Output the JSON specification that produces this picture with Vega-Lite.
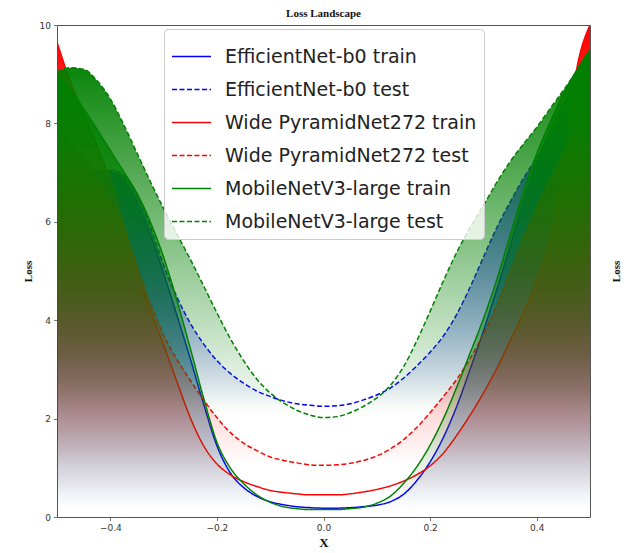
{
"$schema": "https://vega.github.io/schema/vega-lite/v6.json",
"width": 533, "height": 492,
"autosize": {"type": "none"},
"padding": {"left": 57, "top": 25, "right": 36, "bottom": 36},
"background": "white",
"title": {"text": "Loss Landscape", "font": "Liberation Serif", "fontSize": 11, "fontWeight": "bold", "color": "#111", "offset": 2},
"data": {"values": [
{"x":-0.5,"s":"EfficientNet-b0 train","y":6.9},{"x":-0.475,"s":"EfficientNet-b0 train","y":6.92},{"x":-0.45,"s":"EfficientNet-b0 train","y":6.95},{"x":-0.425,"s":"EfficientNet-b0 train","y":6.98},{"x":-0.4,"s":"EfficientNet-b0 train","y":7.0},{"x":-0.375,"s":"EfficientNet-b0 train","y":6.85},{"x":-0.35,"s":"EfficientNet-b0 train","y":6.4},{"x":-0.325,"s":"EfficientNet-b0 train","y":5.75},{"x":-0.3,"s":"EfficientNet-b0 train","y":4.95},{"x":-0.275,"s":"EfficientNet-b0 train","y":4.1},{"x":-0.25,"s":"EfficientNet-b0 train","y":3.22},{"x":-0.225,"s":"EfficientNet-b0 train","y":2.3},{"x":-0.2,"s":"EfficientNet-b0 train","y":1.45},{"x":-0.175,"s":"EfficientNet-b0 train","y":0.9},{"x":-0.15,"s":"EfficientNet-b0 train","y":0.6},{"x":-0.125,"s":"EfficientNet-b0 train","y":0.42},{"x":-0.1,"s":"EfficientNet-b0 train","y":0.31},{"x":-0.075,"s":"EfficientNet-b0 train","y":0.25},{"x":-0.05,"s":"EfficientNet-b0 train","y":0.21},{"x":-0.025,"s":"EfficientNet-b0 train","y":0.19},{"x":0,"s":"EfficientNet-b0 train","y":0.18},{"x":0.025,"s":"EfficientNet-b0 train","y":0.18},{"x":0.05,"s":"EfficientNet-b0 train","y":0.19},{"x":0.075,"s":"EfficientNet-b0 train","y":0.21},{"x":0.1,"s":"EfficientNet-b0 train","y":0.24},{"x":0.125,"s":"EfficientNet-b0 train","y":0.31},{"x":0.15,"s":"EfficientNet-b0 train","y":0.46},{"x":0.175,"s":"EfficientNet-b0 train","y":0.74},{"x":0.2,"s":"EfficientNet-b0 train","y":1.12},{"x":0.225,"s":"EfficientNet-b0 train","y":1.62},{"x":0.25,"s":"EfficientNet-b0 train","y":2.25},{"x":0.275,"s":"EfficientNet-b0 train","y":3.0},{"x":0.3,"s":"EfficientNet-b0 train","y":3.78},{"x":0.325,"s":"EfficientNet-b0 train","y":4.62},{"x":0.35,"s":"EfficientNet-b0 train","y":5.5},{"x":0.375,"s":"EfficientNet-b0 train","y":6.4},{"x":0.4,"s":"EfficientNet-b0 train","y":7.2},{"x":0.425,"s":"EfficientNet-b0 train","y":7.85},{"x":0.45,"s":"EfficientNet-b0 train","y":8.38},{"x":0.475,"s":"EfficientNet-b0 train","y":8.8},{"x":0.5,"s":"EfficientNet-b0 train","y":9.1},
{"x":-0.5,"s":"EfficientNet-b0 test","y":6.95},{"x":-0.475,"s":"EfficientNet-b0 test","y":6.98},{"x":-0.45,"s":"EfficientNet-b0 test","y":7.0},{"x":-0.425,"s":"EfficientNet-b0 test","y":7.05},{"x":-0.4,"s":"EfficientNet-b0 test","y":7.05},{"x":-0.375,"s":"EfficientNet-b0 test","y":6.95},{"x":-0.35,"s":"EfficientNet-b0 test","y":6.55},{"x":-0.325,"s":"EfficientNet-b0 test","y":5.9},{"x":-0.3,"s":"EfficientNet-b0 test","y":5.12},{"x":-0.275,"s":"EfficientNet-b0 test","y":4.47},{"x":-0.25,"s":"EfficientNet-b0 test","y":3.94},{"x":-0.225,"s":"EfficientNet-b0 test","y":3.52},{"x":-0.2,"s":"EfficientNet-b0 test","y":3.18},{"x":-0.175,"s":"EfficientNet-b0 test","y":2.92},{"x":-0.15,"s":"EfficientNet-b0 test","y":2.72},{"x":-0.125,"s":"EfficientNet-b0 test","y":2.56},{"x":-0.1,"s":"EfficientNet-b0 test","y":2.45},{"x":-0.075,"s":"EfficientNet-b0 test","y":2.36},{"x":-0.05,"s":"EfficientNet-b0 test","y":2.3},{"x":-0.025,"s":"EfficientNet-b0 test","y":2.27},{"x":0,"s":"EfficientNet-b0 test","y":2.25},{"x":0.025,"s":"EfficientNet-b0 test","y":2.26},{"x":0.05,"s":"EfficientNet-b0 test","y":2.3},{"x":0.075,"s":"EfficientNet-b0 test","y":2.38},{"x":0.1,"s":"EfficientNet-b0 test","y":2.48},{"x":0.125,"s":"EfficientNet-b0 test","y":2.62},{"x":0.15,"s":"EfficientNet-b0 test","y":2.82},{"x":0.175,"s":"EfficientNet-b0 test","y":3.07},{"x":0.2,"s":"EfficientNet-b0 test","y":3.35},{"x":0.225,"s":"EfficientNet-b0 test","y":3.68},{"x":0.25,"s":"EfficientNet-b0 test","y":4.12},{"x":0.275,"s":"EfficientNet-b0 test","y":4.67},{"x":0.3,"s":"EfficientNet-b0 test","y":5.28},{"x":0.325,"s":"EfficientNet-b0 test","y":5.88},{"x":0.35,"s":"EfficientNet-b0 test","y":6.4},{"x":0.375,"s":"EfficientNet-b0 test","y":6.88},{"x":0.4,"s":"EfficientNet-b0 test","y":7.3},{"x":0.425,"s":"EfficientNet-b0 test","y":7.7},{"x":0.45,"s":"EfficientNet-b0 test","y":8.1},{"x":0.475,"s":"EfficientNet-b0 test","y":8.5},{"x":0.5,"s":"EfficientNet-b0 test","y":8.9},
{"x":-0.5,"s":"Wide PyramidNet272 train","y":9.65},{"x":-0.475,"s":"Wide PyramidNet272 train","y":8.85},{"x":-0.45,"s":"Wide PyramidNet272 train","y":8.2},{"x":-0.425,"s":"Wide PyramidNet272 train","y":7.55},{"x":-0.4,"s":"Wide PyramidNet272 train","y":6.85},{"x":-0.375,"s":"Wide PyramidNet272 train","y":5.95},{"x":-0.35,"s":"Wide PyramidNet272 train","y":5.0},{"x":-0.325,"s":"Wide PyramidNet272 train","y":4.2},{"x":-0.3,"s":"Wide PyramidNet272 train","y":3.5},{"x":-0.275,"s":"Wide PyramidNet272 train","y":2.75},{"x":-0.25,"s":"Wide PyramidNet272 train","y":2.02},{"x":-0.225,"s":"Wide PyramidNet272 train","y":1.45},{"x":-0.2,"s":"Wide PyramidNet272 train","y":1.08},{"x":-0.175,"s":"Wide PyramidNet272 train","y":0.86},{"x":-0.15,"s":"Wide PyramidNet272 train","y":0.72},{"x":-0.125,"s":"Wide PyramidNet272 train","y":0.62},{"x":-0.1,"s":"Wide PyramidNet272 train","y":0.54},{"x":-0.075,"s":"Wide PyramidNet272 train","y":0.5},{"x":-0.05,"s":"Wide PyramidNet272 train","y":0.47},{"x":-0.025,"s":"Wide PyramidNet272 train","y":0.45},{"x":0,"s":"Wide PyramidNet272 train","y":0.45},{"x":0.025,"s":"Wide PyramidNet272 train","y":0.45},{"x":0.05,"s":"Wide PyramidNet272 train","y":0.47},{"x":0.075,"s":"Wide PyramidNet272 train","y":0.51},{"x":0.1,"s":"Wide PyramidNet272 train","y":0.56},{"x":0.125,"s":"Wide PyramidNet272 train","y":0.63},{"x":0.15,"s":"Wide PyramidNet272 train","y":0.73},{"x":0.175,"s":"Wide PyramidNet272 train","y":0.86},{"x":0.2,"s":"Wide PyramidNet272 train","y":1.04},{"x":0.225,"s":"Wide PyramidNet272 train","y":1.3},{"x":0.25,"s":"Wide PyramidNet272 train","y":1.66},{"x":0.275,"s":"Wide PyramidNet272 train","y":2.07},{"x":0.3,"s":"Wide PyramidNet272 train","y":2.52},{"x":0.325,"s":"Wide PyramidNet272 train","y":3.02},{"x":0.35,"s":"Wide PyramidNet272 train","y":3.58},{"x":0.375,"s":"Wide PyramidNet272 train","y":4.15},{"x":0.4,"s":"Wide PyramidNet272 train","y":4.8},{"x":0.425,"s":"Wide PyramidNet272 train","y":5.7},{"x":0.45,"s":"Wide PyramidNet272 train","y":7.1},{"x":0.475,"s":"Wide PyramidNet272 train","y":9.1},{"x":0.5,"s":"Wide PyramidNet272 train","y":10.0},
{"x":-0.5,"s":"Wide PyramidNet272 test","y":7.9},{"x":-0.475,"s":"Wide PyramidNet272 test","y":7.6},{"x":-0.45,"s":"Wide PyramidNet272 test","y":7.3},{"x":-0.425,"s":"Wide PyramidNet272 test","y":6.9},{"x":-0.4,"s":"Wide PyramidNet272 test","y":6.45},{"x":-0.375,"s":"Wide PyramidNet272 test","y":5.85},{"x":-0.35,"s":"Wide PyramidNet272 test","y":5.1},{"x":-0.325,"s":"Wide PyramidNet272 test","y":4.35},{"x":-0.3,"s":"Wide PyramidNet272 test","y":3.7},{"x":-0.275,"s":"Wide PyramidNet272 test","y":3.2},{"x":-0.25,"s":"Wide PyramidNet272 test","y":2.78},{"x":-0.225,"s":"Wide PyramidNet272 test","y":2.38},{"x":-0.2,"s":"Wide PyramidNet272 test","y":2.02},{"x":-0.175,"s":"Wide PyramidNet272 test","y":1.72},{"x":-0.15,"s":"Wide PyramidNet272 test","y":1.5},{"x":-0.125,"s":"Wide PyramidNet272 test","y":1.35},{"x":-0.1,"s":"Wide PyramidNet272 test","y":1.22},{"x":-0.075,"s":"Wide PyramidNet272 test","y":1.15},{"x":-0.05,"s":"Wide PyramidNet272 test","y":1.1},{"x":-0.025,"s":"Wide PyramidNet272 test","y":1.06},{"x":0,"s":"Wide PyramidNet272 test","y":1.05},{"x":0.025,"s":"Wide PyramidNet272 test","y":1.06},{"x":0.05,"s":"Wide PyramidNet272 test","y":1.09},{"x":0.075,"s":"Wide PyramidNet272 test","y":1.15},{"x":0.1,"s":"Wide PyramidNet272 test","y":1.24},{"x":0.125,"s":"Wide PyramidNet272 test","y":1.38},{"x":0.15,"s":"Wide PyramidNet272 test","y":1.57},{"x":0.175,"s":"Wide PyramidNet272 test","y":1.82},{"x":0.2,"s":"Wide PyramidNet272 test","y":2.12},{"x":0.225,"s":"Wide PyramidNet272 test","y":2.45},{"x":0.25,"s":"Wide PyramidNet272 test","y":2.8},{"x":0.275,"s":"Wide PyramidNet272 test","y":3.22},{"x":0.3,"s":"Wide PyramidNet272 test","y":3.72},{"x":0.325,"s":"Wide PyramidNet272 test","y":4.3},{"x":0.35,"s":"Wide PyramidNet272 test","y":4.98},{"x":0.375,"s":"Wide PyramidNet272 test","y":5.68},{"x":0.4,"s":"Wide PyramidNet272 test","y":6.3},{"x":0.425,"s":"Wide PyramidNet272 test","y":6.88},{"x":0.45,"s":"Wide PyramidNet272 test","y":7.4},{"x":0.475,"s":"Wide PyramidNet272 test","y":7.8},{"x":0.5,"s":"Wide PyramidNet272 test","y":8.2},
{"x":-0.5,"s":"MobileNetV3-large train","y":9.0},{"x":-0.475,"s":"MobileNetV3-large train","y":8.7},{"x":-0.45,"s":"MobileNetV3-large train","y":8.3},{"x":-0.425,"s":"MobileNetV3-large train","y":7.88},{"x":-0.4,"s":"MobileNetV3-large train","y":7.45},{"x":-0.375,"s":"MobileNetV3-large train","y":7.02},{"x":-0.35,"s":"MobileNetV3-large train","y":6.58},{"x":-0.325,"s":"MobileNetV3-large train","y":6.0},{"x":-0.3,"s":"MobileNetV3-large train","y":5.28},{"x":-0.275,"s":"MobileNetV3-large train","y":4.4},{"x":-0.25,"s":"MobileNetV3-large train","y":3.43},{"x":-0.225,"s":"MobileNetV3-large train","y":2.42},{"x":-0.2,"s":"MobileNetV3-large train","y":1.52},{"x":-0.175,"s":"MobileNetV3-large train","y":1.0},{"x":-0.15,"s":"MobileNetV3-large train","y":0.68},{"x":-0.125,"s":"MobileNetV3-large train","y":0.45},{"x":-0.1,"s":"MobileNetV3-large train","y":0.3},{"x":-0.075,"s":"MobileNetV3-large train","y":0.21},{"x":-0.05,"s":"MobileNetV3-large train","y":0.17},{"x":-0.025,"s":"MobileNetV3-large train","y":0.15},{"x":0,"s":"MobileNetV3-large train","y":0.15},{"x":0.025,"s":"MobileNetV3-large train","y":0.15},{"x":0.05,"s":"MobileNetV3-large train","y":0.17},{"x":0.075,"s":"MobileNetV3-large train","y":0.2},{"x":0.1,"s":"MobileNetV3-large train","y":0.28},{"x":0.125,"s":"MobileNetV3-large train","y":0.42},{"x":0.15,"s":"MobileNetV3-large train","y":0.68},{"x":0.175,"s":"MobileNetV3-large train","y":1.02},{"x":0.2,"s":"MobileNetV3-large train","y":1.46},{"x":0.225,"s":"MobileNetV3-large train","y":2.0},{"x":0.25,"s":"MobileNetV3-large train","y":2.64},{"x":0.275,"s":"MobileNetV3-large train","y":3.33},{"x":0.3,"s":"MobileNetV3-large train","y":4.03},{"x":0.325,"s":"MobileNetV3-large train","y":4.82},{"x":0.35,"s":"MobileNetV3-large train","y":5.72},{"x":0.375,"s":"MobileNetV3-large train","y":6.6},{"x":0.4,"s":"MobileNetV3-large train","y":7.38},{"x":0.425,"s":"MobileNetV3-large train","y":8.02},{"x":0.45,"s":"MobileNetV3-large train","y":8.6},{"x":0.475,"s":"MobileNetV3-large train","y":9.08},{"x":0.5,"s":"MobileNetV3-large train","y":9.5},
{"x":-0.5,"s":"MobileNetV3-large test","y":9.05},{"x":-0.475,"s":"MobileNetV3-large test","y":9.13},{"x":-0.45,"s":"MobileNetV3-large test","y":9.1},{"x":-0.425,"s":"MobileNetV3-large test","y":8.87},{"x":-0.4,"s":"MobileNetV3-large test","y":8.5},{"x":-0.375,"s":"MobileNetV3-large test","y":7.98},{"x":-0.35,"s":"MobileNetV3-large test","y":7.4},{"x":-0.325,"s":"MobileNetV3-large test","y":6.82},{"x":-0.3,"s":"MobileNetV3-large test","y":6.27},{"x":-0.275,"s":"MobileNetV3-large test","y":5.75},{"x":-0.25,"s":"MobileNetV3-large test","y":5.24},{"x":-0.225,"s":"MobileNetV3-large test","y":4.7},{"x":-0.2,"s":"MobileNetV3-large test","y":4.15},{"x":-0.175,"s":"MobileNetV3-large test","y":3.63},{"x":-0.15,"s":"MobileNetV3-large test","y":3.18},{"x":-0.125,"s":"MobileNetV3-large test","y":2.8},{"x":-0.1,"s":"MobileNetV3-large test","y":2.52},{"x":-0.075,"s":"MobileNetV3-large test","y":2.32},{"x":-0.05,"s":"MobileNetV3-large test","y":2.17},{"x":-0.025,"s":"MobileNetV3-large test","y":2.07},{"x":0,"s":"MobileNetV3-large test","y":2.02},{"x":0.025,"s":"MobileNetV3-large test","y":2.04},{"x":0.05,"s":"MobileNetV3-large test","y":2.12},{"x":0.075,"s":"MobileNetV3-large test","y":2.25},{"x":0.1,"s":"MobileNetV3-large test","y":2.42},{"x":0.125,"s":"MobileNetV3-large test","y":2.67},{"x":0.15,"s":"MobileNetV3-large test","y":3.05},{"x":0.175,"s":"MobileNetV3-large test","y":3.58},{"x":0.2,"s":"MobileNetV3-large test","y":4.18},{"x":0.225,"s":"MobileNetV3-large test","y":4.8},{"x":0.25,"s":"MobileNetV3-large test","y":5.38},{"x":0.275,"s":"MobileNetV3-large test","y":5.88},{"x":0.3,"s":"MobileNetV3-large test","y":6.33},{"x":0.325,"s":"MobileNetV3-large test","y":6.8},{"x":0.35,"s":"MobileNetV3-large test","y":7.22},{"x":0.375,"s":"MobileNetV3-large test","y":7.58},{"x":0.4,"s":"MobileNetV3-large test","y":7.92},{"x":0.425,"s":"MobileNetV3-large test","y":8.3},{"x":0.45,"s":"MobileNetV3-large test","y":8.67},{"x":0.475,"s":"MobileNetV3-large test","y":9.06},{"x":0.5,"s":"MobileNetV3-large test","y":9.45}
]},
"encoding": {
  "x": {"field": "x", "type": "quantitative", "scale": {"domain": [-0.5, 0.5], "nice": false, "zero": false}, "axis": {"values": [-0.4, -0.2, 0, 0.2, 0.4], "format": ".1f", "title": "X"}},
  "y": {"field": "y", "type": "quantitative", "scale": {"domain": [0, 10], "nice": false}, "axis": {"values": [0, 2, 4, 6, 8, 10], "format": "d", "title": "Loss"}}
},
"layer": [
 {"layer": [
  {"transform": [{"filter": {"field": "s", "equal": "EfficientNet-b0 train"}}], "mark": {"type": "line", "clip": true, "interpolate": "monotone", "strokeWidth": 1.5},
   "encoding": {
     "color": {"field": "s", "type": "nominal", "scale": {"domain": ["EfficientNet-b0 train", "EfficientNet-b0 test", "Wide PyramidNet272 train", "Wide PyramidNet272 test", "MobileNetV3-large train", "MobileNetV3-large test"], "range": ["#0000ff", "#0000ff", "#ff0000", "#ff0000", "#008000", "#008000"]}, "legend": {"title": null, "orient": "none", "legendX": 107, "legendY": 4}},
     "strokeDash": {"field": "s", "type": "nominal", "scale": {"domain": ["EfficientNet-b0 train", "EfficientNet-b0 test", "Wide PyramidNet272 train", "Wide PyramidNet272 test", "MobileNetV3-large train", "MobileNetV3-large test"], "range": [[1, 0], [5, 2.5], [1, 0], [5, 2.5], [1, 0], [5, 2.5]]}, "legend": {"title": null, "orient": "none", "legendX": 107, "legendY": 4}}
   }},
  {"transform": [{"filter": {"field": "s", "equal": "EfficientNet-b0 train"}}], "mark": {"type": "area", "clip": true, "interpolate": "monotone", "color": {"gradient": "linear", "x1": 0, "y1": 0, "x2": 0, "y2": 1, "stops": [{"offset": 0, "color": "rgba(0,0,255,1)"}, {"offset": 1, "color": "rgba(0,0,255,0)"}]}}, "encoding": {"y2": {"datum": 0.18}}},
  {"transform": [{"filter": {"field": "s", "equal": "EfficientNet-b0 test"}}], "mark": {"type": "line", "clip": true, "interpolate": "monotone", "strokeWidth": 1.5},
   "encoding": {"color": {"field": "s", "type": "nominal", "legend": {"title": null, "orient": "none", "legendX": 107, "legendY": 4}}, "strokeDash": {"field": "s", "type": "nominal", "legend": {"title": null, "orient": "none", "legendX": 107, "legendY": 4}}}},
  {"transform": [{"filter": {"field": "s", "equal": "EfficientNet-b0 test"}}], "mark": {"type": "area", "clip": true, "interpolate": "monotone", "color": {"gradient": "linear", "x1": 0, "y1": 0, "x2": 0, "y2": 1, "stops": [{"offset": 0, "color": "rgba(0,0,255,1)"}, {"offset": 1, "color": "rgba(0,0,255,0)"}]}}, "encoding": {"y2": {"datum": 2.25}}},
  {"transform": [{"filter": {"field": "s", "equal": "Wide PyramidNet272 train"}}], "mark": {"type": "line", "clip": true, "interpolate": "monotone", "strokeWidth": 1.5},
   "encoding": {"color": {"field": "s", "type": "nominal", "legend": {"title": null, "orient": "none", "legendX": 107, "legendY": 4}}, "strokeDash": {"field": "s", "type": "nominal", "legend": {"title": null, "orient": "none", "legendX": 107, "legendY": 4}}}},
  {"transform": [{"filter": {"field": "s", "equal": "Wide PyramidNet272 train"}}], "mark": {"type": "area", "clip": true, "interpolate": "monotone", "color": {"gradient": "linear", "x1": 0, "y1": 0, "x2": 0, "y2": 1, "stops": [{"offset": 0, "color": "rgba(255,0,0,1)"}, {"offset": 1, "color": "rgba(255,0,0,0)"}]}}, "encoding": {"y2": {"datum": 0.45}}},
  {"transform": [{"filter": {"field": "s", "equal": "Wide PyramidNet272 test"}}], "mark": {"type": "line", "clip": true, "interpolate": "monotone", "strokeWidth": 1.5},
   "encoding": {"color": {"field": "s", "type": "nominal", "legend": {"title": null, "orient": "none", "legendX": 107, "legendY": 4}}, "strokeDash": {"field": "s", "type": "nominal", "legend": {"title": null, "orient": "none", "legendX": 107, "legendY": 4}}}},
  {"transform": [{"filter": {"field": "s", "equal": "Wide PyramidNet272 test"}}], "mark": {"type": "area", "clip": true, "interpolate": "monotone", "color": {"gradient": "linear", "x1": 0, "y1": 0, "x2": 0, "y2": 1, "stops": [{"offset": 0, "color": "rgba(255,0,0,1)"}, {"offset": 1, "color": "rgba(255,0,0,0)"}]}}, "encoding": {"y2": {"datum": 1.05}}},
  {"transform": [{"filter": {"field": "s", "equal": "MobileNetV3-large train"}}], "mark": {"type": "line", "clip": true, "interpolate": "monotone", "strokeWidth": 1.5},
   "encoding": {"color": {"field": "s", "type": "nominal", "legend": {"title": null, "orient": "none", "legendX": 107, "legendY": 4}}, "strokeDash": {"field": "s", "type": "nominal", "legend": {"title": null, "orient": "none", "legendX": 107, "legendY": 4}}}},
  {"transform": [{"filter": {"field": "s", "equal": "MobileNetV3-large train"}}], "mark": {"type": "area", "clip": true, "interpolate": "monotone", "color": {"gradient": "linear", "x1": 0, "y1": 0, "x2": 0, "y2": 1, "stops": [{"offset": 0, "color": "rgba(0,128,0,1)"}, {"offset": 1, "color": "rgba(0,128,0,0)"}]}}, "encoding": {"y2": {"datum": 0.15}}},
  {"transform": [{"filter": {"field": "s", "equal": "MobileNetV3-large test"}}], "mark": {"type": "line", "clip": true, "interpolate": "monotone", "strokeWidth": 1.5},
   "encoding": {"color": {"field": "s", "type": "nominal", "legend": {"title": null, "orient": "none", "legendX": 107, "legendY": 4}}, "strokeDash": {"field": "s", "type": "nominal", "legend": {"title": null, "orient": "none", "legendX": 107, "legendY": 4}}}},
  {"transform": [{"filter": {"field": "s", "equal": "MobileNetV3-large test"}}], "mark": {"type": "area", "clip": true, "interpolate": "monotone", "color": {"gradient": "linear", "x1": 0, "y1": 0, "x2": 0, "y2": 1, "stops": [{"offset": 0, "color": "rgba(0,128,0,1)"}, {"offset": 1, "color": "rgba(0,128,0,0)"}]}}, "encoding": {"y2": {"datum": 2.02}}}
 ]},
 {"mark": {"type": "point", "opacity": 0},
  "encoding": {"y": {"field": "y", "type": "quantitative", "axis": {"orient": "right", "labels": false, "ticks": false, "domain": false, "title": "Loss", "titleAngle": 270, "titlePadding": 31}}}}
],
"resolve": {"axis": {"y": "independent"}},
"config": {
  "view": {"stroke": "#555", "strokeWidth": 1},
  "axis": {"labelFont": "DejaVu Sans", "labelFontSize": 9, "labelColor": "#333", "tickColor": "#555", "tickSize": 3.5, "tickWidth": 0.8, "domain": false, "grid": false, "labelPadding": 3, "titleFont": "Liberation Serif", "titleFontWeight": "bold", "titleColor": "#111"},
  "axisX": {"titleFontSize": 13, "titlePadding": 4},
  "axisY": {"titleFontSize": 11, "titlePadding": 6},
  "legend": {"symbolType": "stroke", "symbolSize": 1521, "symbolStrokeWidth": 1.5, "labelFont": "DejaVu Sans", "labelFontSize": 19, "labelColor": "#222", "rowPadding": 2, "padding": 7, "fillColor": "rgba(255,255,255,0.8)", "strokeColor": "#cccccc", "cornerRadius": 4, "labelOffset": 13, "labelLimit": 400}
}
}
